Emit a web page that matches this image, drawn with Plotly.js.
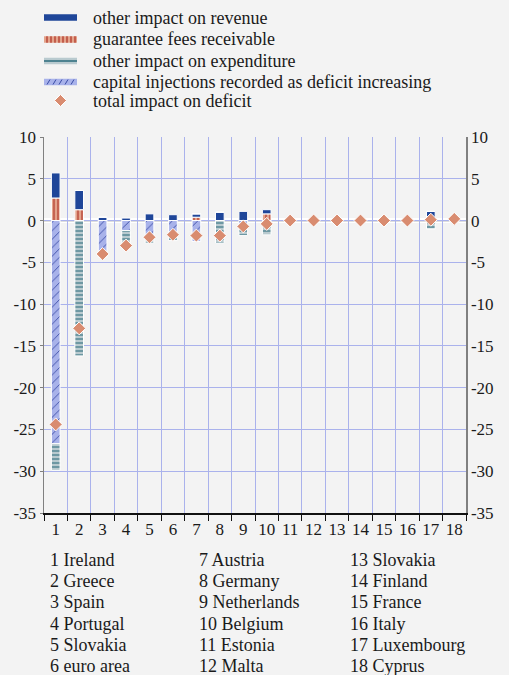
<!DOCTYPE html>
<html>
<head>
<meta charset="utf-8">
<script src="https://cdn.plot.ly/plotly-3.0.1.min.js"></script>
<style>
html,body{margin:0;padding:0;background:#f3f3f3;}
#chart{width:509px;height:675px;}
</style>
</head>
<body>
<div id="chart"></div>
<script>
// ---- data ----
const categories = ["1","2","3","4","5","6","7","8","9","10","11","12","13","14","15","16","17","18"];
const countryNames = ["Ireland","Greece","Spain","Portugal","Slovakia","euro area","Austria","Germany","Netherlands","Belgium","Estonia","Malta","Slovakia","Finland","France","Italy","Luxembourg","Cyprus"];
const otherRevenue   = [3.0, 2.3, 0.4, 0.3, 0.8, 0.7, 0.4, 1.0, 1.1, 0.5, 0, 0, 0, 0, 0, 0, 1.1, 0];
const guaranteeFees  = [2.7, 1.3, 0, 0, 0, 0, 0.4, 0, 0, 0.8, 0, 0, 0, 0, 0, 0, 0, 0.3];
const capitalInject  = [-26.7, 0, -4.4, -1.2, -1.8, -1.4, -2.5, 0, -0.6, -0.3, 0, 0, 0, 0, 0, 0, 0, 0];
const otherExpend    = [-3.2, -16.2, 0, -2.0, -0.9, -1.0, 0, -2.7, -1.2, -1.4, 0, 0, 0, 0, 0, 0, -1.0, -0.2];
const totalImpact    = [-24.4, -12.9, -4.0, -3.0, -2.0, -1.7, -1.8, -1.8, -0.7, -0.4, 0, 0, 0, 0, 0, 0, 0.1, 0.2];
const seriesNames = ["other impact on revenue","guarantee fees receivable","other impact on expenditure","capital injections recorded as deficit increasing","total impact on deficit"];
const yTicks = [10,5,0,-5,-10,-15,-20,-25,-30,-35];

// ---- style ----
const FONT = "'Liberation Serif', 'Times New Roman', serif";
const C = {
  rev: "#1f4699",
  feeBg: "#e3a38b", feeFg: "#b23a2c",
  expBg: "#b9cacf", expFg: "#4d8290",
  injBg: "#a8b2ea", injFg: "#3a4ca6",
  dia: "#d98c70",
  grid: "#aab2ec"
};
const L = 44, R = 43, T = 137, B = 162, W = 509, H = 675;
const pw = W - L - R, ph = H - T - B;
const px2x = p => (p - L) / pw;
const px2y = p => (H - B - p) / ph;

const line = {color: "#ffffff", width: 1};
const traces = [
  {type:"bar", name:seriesNames[1], x:categories, y:guaranteeFees, showlegend:false,
   marker:{color:C.feeBg, line:line, pattern:{shape:"|", fgcolor:C.feeFg, bgcolor:C.feeBg, size:4, solidity:0.3}}},
  {type:"bar", name:seriesNames[0], x:categories, y:otherRevenue, showlegend:false,
   marker:{color:C.rev, line:line}},
  {type:"bar", name:seriesNames[3], x:categories, y:capitalInject, showlegend:false,
   marker:{color:C.injBg, line:line, pattern:{shape:"/", fgcolor:C.injFg, bgcolor:C.injBg, size:6, solidity:0.15}}},
  {type:"bar", name:seriesNames[2], x:categories, y:otherExpend, showlegend:false,
   marker:{color:C.expBg, line:line, pattern:{shape:"-", fgcolor:C.expFg, bgcolor:C.expBg, size:4, solidity:0.35}}},
  {type:"scatter", mode:"markers", name:seriesNames[4], x:categories, y:totalImpact, showlegend:false,
   marker:{symbol:"diamond", size:10, color:C.dia, line:{color:"#ffffff", width:1}}},
  {type:"scatter", mode:"markers", x:categories, y:totalImpact, yaxis:"y2", showlegend:false,
   hoverinfo:"skip", marker:{opacity:0}}
];

// ---- custom legend (shapes + text) ----
const shapes = [];
const annotations = [];
const sx0 = px2x(44), sx1 = px2x(77);
const rows = [17.5, 39.5, 61, 82, 100.5];
function rect(yc, h, color){
  shapes.push({type:"rect", xref:"paper", yref:"paper", x0:sx0, x1:sx1, y0:px2y(yc+h/2), y1:px2y(yc-h/2),
    fillcolor:color, line:{width:0}});
}
function seg(x0,y0,x1,y1,color,w){
  shapes.push({type:"line", xref:"paper", yref:"paper", x0:px2x(x0), y0:px2y(y0), x1:px2x(x1), y1:px2y(y1),
    line:{color:color, width:w}});
}
rect(rows[0], 6.5, C.rev);
rect(rows[1], 6.5, C.feeBg);
for (let p = 47; p <= 75; p += 4) seg(p, rows[1]-3.2, p, rows[1]+3.2, C.feeFg, 1.3);
rect(rows[2], 6.5, C.expBg);
seg(44, rows[2], 77, rows[2], C.expFg, 2);
rect(rows[3], 6.5, C.injBg);
for (let p = 47; p <= 73; p += 6) seg(p, rows[3]+2.5, p+3, rows[3]-2.5, C.injFg, 1);
shapes.push({type:"path", xref:"paper", yref:"paper",
  path:`M ${px2x(60.5)} ${px2y(rows[4]-6)} L ${px2x(66.5)} ${px2y(rows[4])} L ${px2x(60.5)} ${px2y(rows[4]+6)} L ${px2x(54.5)} ${px2y(rows[4])} Z`,
  fillcolor:C.dia, line:{color:"#ffffff", width:1}});
seriesNames.forEach((n,i)=>{
  annotations.push({xref:"paper", yref:"paper", x:px2x(91), y:px2y(rows[i]), xanchor:"left", yanchor:"middle",
    text:n, showarrow:false, font:{family:FONT, size:18, color:"#1a1a1a"}});
});

// zero line (white band + grey line)
shapes.push({type:"line", xref:"paper", yref:"y", x0:0, x1:1, y0:0, y1:0, layer:"between", line:{color:"#ffffff", width:5}});
shapes.push({type:"line", xref:"paper", yref:"y", x0:0, x1:1, y0:0, y1:0, layer:"between", line:{color:"#7a7a7a", width:1.2}});

// country list
const colX = [48, 197, 348];
countryNames.forEach((n,i)=>{
  const col = Math.floor(i/6), row = i%6;
  annotations.push({xref:"paper", yref:"paper", x:px2x(colX[col]), y:px2y(560 + row*21.2), xanchor:"left", yanchor:"middle",
    text:categories[i] + " " + n, showarrow:false, font:{family:FONT, size:18, color:"#1a1a1a"}});
});

const yax = {
  range:[-35,10], tickvals:yTicks, ticktext:yTicks.map(String), showgrid:true, gridcolor:C.grid, gridwidth:1,
  zeroline:false, showline:true, linecolor:"#808080", linewidth:1.5, ticks:"outside", ticklen:3, tickcolor:"#808080",
  tickfont:{family:FONT, size:17, color:"#1a1a1a"}, fixedrange:true
};
const layout = {
  width:W, height:H, margin:{l:L, r:R, t:T, b:B, pad:0},
  paper_bgcolor:"#f3f3f3", plot_bgcolor:"#f3f3f3",
  barmode:"relative", bargap:0.63,
  showlegend:false,
  xaxis:{type:"category", range:[-0.5,17.5], tickson:"boundaries", showgrid:true, gridcolor:C.grid, gridwidth:1,
    showline:true, linecolor:"#111111", linewidth:1.5, ticks:"outside", ticklen:6, tickcolor:"#111111", tickangle:0,
    tickfont:{family:FONT, size:17, color:"#1a1a1a"}, zeroline:false, fixedrange:true},
  yaxis:yax,
  yaxis2:Object.assign({}, yax, {overlaying:"y", side:"right", showgrid:false, ticks:""}),
  shapes:shapes, annotations:annotations,
  font:{family:FONT, size:17, color:"#1a1a1a"}
};
Plotly.newPlot("chart", traces, layout, {displayModeBar:false, staticPlot:true});
</script>
</body>
</html>
